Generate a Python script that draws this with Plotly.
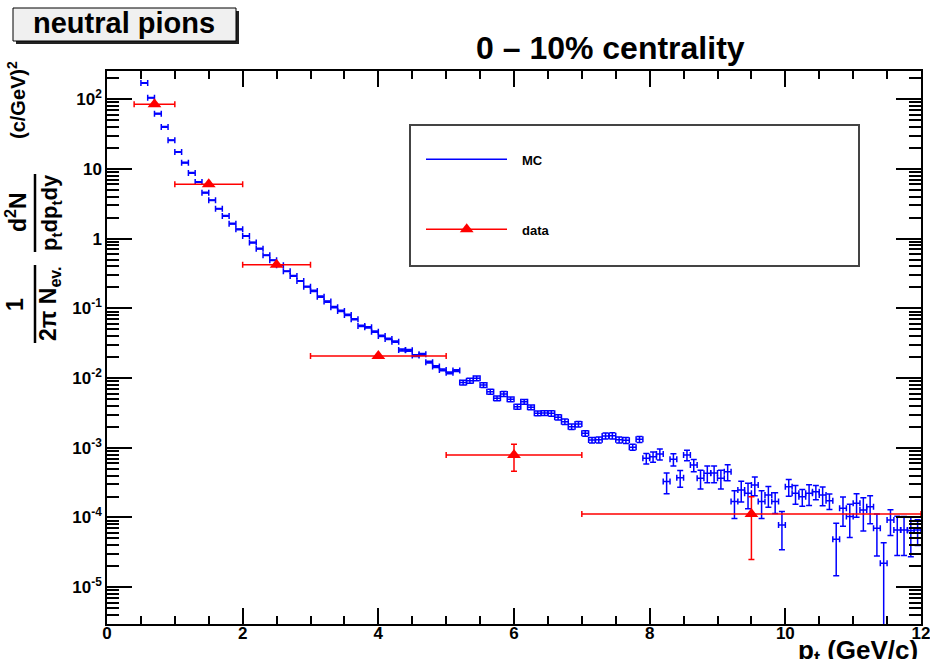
import plotly.graph_objects as go

# ---------------- data ----------------
mc_pt = [0.55, 0.65, 0.75, 0.85, 0.95, 1.05, 1.15, 1.25, 1.35, 1.45,
         1.55, 1.65, 1.75, 1.85, 1.95, 2.05, 2.15, 2.25, 2.35, 2.45,
         2.55, 2.65, 2.75, 2.85, 2.95, 3.05, 3.15, 3.25, 3.35, 3.45,
         3.55, 3.65, 3.75, 3.85, 3.95, 4.05, 4.15, 4.25, 4.35, 4.45,
         4.55, 4.65, 4.75, 4.85, 4.95, 5.05, 5.15, 5.25, 5.35, 5.45,
         5.55, 5.65, 5.75, 5.85, 5.95, 6.05, 6.15, 6.25, 6.35, 6.45,
         6.55, 6.65, 6.75, 6.85, 6.95, 7.05, 7.15, 7.25, 7.35, 7.45,
         7.55, 7.65, 7.75, 7.85, 7.95, 8.05, 8.15, 8.25, 8.35, 8.45,
         8.55, 8.65, 8.75, 8.85, 8.95, 9.05, 9.15, 9.25, 9.35, 9.45,
         9.55, 9.65, 9.75, 9.85, 9.95, 10.05, 10.15, 10.25, 10.35, 10.45,
         10.55, 10.65, 10.75, 10.85, 10.95, 11.05, 11.15, 11.25, 11.35, 11.45,
         11.55, 11.65, 11.75, 11.85, 11.95]

mc_yield = [171, 105, 62.1, 40.1, 25.8, 17.5, 12.3, 8.77, 6.51, 4.57,
            3.56, 2.69, 2.12, 1.64, 1.36, 1.09, 0.877, 0.719, 0.578, 0.490,
            0.415, 0.340, 0.292, 0.247, 0.205, 0.178, 0.147, 0.125, 0.104, 0.0918,
            0.0804, 0.0698, 0.0559, 0.0535, 0.0463, 0.0402, 0.0364, 0.0333, 0.0253, 0.0250,
            0.0210, 0.0219, 0.0169, 0.0146, 0.0131, 0.0119, 0.0128, 0.00865, 0.00918, 0.00993,
            0.00796, 0.00638, 0.00513, 0.00592, 0.00497, 0.00389, 0.00458, 0.00381, 0.00313, 0.00315,
            0.00312, 0.00274, 0.00237, 0.00201, 0.00219, 0.00161, 0.00129, 0.00130, 0.00148, 0.00149,
            0.00130, 0.00128, 0.00102, 0.00132, 7.07e-4, 7.45e-4, 8.15e-4, 3.27e-4, 6.84e-4, 3.72e-4,
            7.88e-4, 5.66e-4, 3.65e-4, 4.31e-4, 4.33e-4, 3.65e-4, 4.54e-4, 1.69e-4, 2.48e-4, 2.22e-4,
            2.92e-4, 1.69e-4, 2.10e-4, 1.70e-4, 7.80e-5, 2.77e-4, 2.22e-4, 1.99e-4, 2.22e-4, 2.34e-4,
            2.10e-4, 1.74e-4, 4.87e-5, 1.36e-4, 1.03e-4, 1.60e-4, 1.28e-4, 1.43e-4, 7.0e-5, 2.20e-5,
            9.2e-5, 6.62e-5, 6.6e-5, 6.5e-5, 6.62e-5]

mc_rel_err = [0.01, 0.01, 0.01, 0.01, 0.01, 0.01, 0.01, 0.01, 0.01, 0.01,
              0.01, 0.01, 0.01, 0.01, 0.01, 0.01, 0.01, 0.01, 0.01, 0.01,
              0.01, 0.01, 0.01, 0.01, 0.01, 0.02, 0.02, 0.02, 0.02, 0.02,
              0.02, 0.02, 0.02, 0.02, 0.02, 0.02, 0.02, 0.02, 0.03, 0.03,
              0.03, 0.03, 0.03, 0.03, 0.03, 0.03, 0.03, 0.08, 0.08, 0.08,
              0.08, 0.08, 0.08, 0.08, 0.08, 0.08, 0.08, 0.08, 0.08, 0.08,
              0.09, 0.09, 0.09, 0.09, 0.09, 0.09, 0.09, 0.10, 0.10, 0.10,
              0.10, 0.10, 0.10, 0.10, 0.17, 0.17, 0.18, 0.33, 0.20, 0.27,
              0.17, 0.20, 0.30, 0.27, 0.27, 0.30, 0.26, 0.43, 0.33, 0.40,
              0.30, 0.43, 0.33, 0.33, 0.56, 0.27, 0.30, 0.27, 0.33, 0.23,
              0.30, 0.25, 0.70, 0.45, 0.50, 0.37, 0.50, 0.43, 0.60, 0.98,
              0.40, 0.57, 0.57, 0.58, 0.40]

mc_bin_halfwidth = 0.05

data_pt = [0.7, 1.5, 2.5, 4.0, 6.0, 9.5]
data_pt_err = [0.3, 0.5, 0.5, 1.0, 1.0, 2.5]
data_yield = [84.8, 6.03, 0.424, 0.0207, 7.9e-4, 1.12e-4]
data_yield_err = [0.0, 0.0, 0.0, 0.0, 3.3e-4, 8.7e-5]

x_tick_vals = [0, 2, 4, 6, 8, 10, 12]
x_tick_text = ["0", "2", "4", "6", "8", "10", "12"]
y_tick_vals = [1e-5, 1e-4, 1e-3, 1e-2, 1e-1, 1, 10, 100]
y_tick_text = ["10<sup>-5</sup>", "10<sup>-4</sup>", "10<sup>-3</sup>", "10<sup>-2</sup>",
               "10<sup>-1</sup>", "1", "10", "10<sup>2</sup>"]
y_minor_vals = [m * 10.0 ** e for e in range(-6, 3) for m in range(2, 10)]

title_text = "0 – 10% centrality"
label_text = "neutral pions"

# ---------------- layout helpers ----------------
W, H = 930, 659
L, R, T, B = 107, 9, 71, 35
PW, PH = W - L - R, H - T - B


def px(x):
    return (x - L) / PW


def py(y):
    return (H - B - y) / PH


FONT = "Liberation Sans, Arial, Helvetica, sans-serif"
BLUE = "rgb(0,0,255)"
RED = "rgb(255,0,0)"

mc_err = [v * r for v, r in zip(mc_yield, mc_rel_err)]

fig = go.Figure()

fig.add_trace(go.Scatter(
    x=mc_pt, y=mc_yield, mode="markers",
    marker=dict(size=2, color=BLUE, opacity=0),
    error_x=dict(type="constant", value=mc_bin_halfwidth, width=3, thickness=1.5, color=BLUE),
    error_y=dict(type="data", array=mc_err, width=3, thickness=1.5, color=BLUE),
    showlegend=False, hoverinfo="skip",
))

fig.add_trace(go.Scatter(
    x=data_pt, y=data_yield, mode="markers",
    marker=dict(symbol="triangle-up", size=12, color=RED),
    error_x=dict(type="data", array=data_pt_err, width=3, thickness=1.5, color=RED),
    error_y=dict(type="data", array=data_yield_err, width=3, thickness=1.5, color=RED),
    showlegend=False, hoverinfo="skip",
))

# legend triangle on an overlay axis spanning the plot area
fig.add_trace(go.Scatter(
    x=[px(466.7)], y=[py(229.3)], xaxis="x2", yaxis="y2", mode="markers",
    marker=dict(symbol="triangle-up", size=12, color=RED),
    showlegend=False, hoverinfo="skip",
))

shapes = []
# neutral pions label box with shadow
shapes.append(dict(type="rect", xref="paper", yref="paper",
                   x0=px(16), x1=px(239), y0=py(44), y1=py(11),
                   fillcolor="#222222", line=dict(width=0), layer="above"))
shapes.append(dict(type="rect", xref="paper", yref="paper",
                   x0=px(13), x1=px(236), y0=py(41), y1=py(8),
                   fillcolor="#f0f0f0", line=dict(color="#000000", width=1), layer="above"))
# legend box
shapes.append(dict(type="rect", xref="paper", yref="paper",
                   x0=px(410), x1=px(859), y0=py(266), y1=py(125),
                   fillcolor="white", line=dict(color="#444444", width=2), layer="below"))
shapes.append(dict(type="line", xref="paper", yref="paper",
                   x0=px(426), x1=px(507), y0=py(159.3), y1=py(159.3),
                   line=dict(color=BLUE, width=1.5)))
shapes.append(dict(type="line", xref="paper", yref="paper",
                   x0=px(426), x1=px(507), y0=py(229.3), y1=py(229.3),
                   line=dict(color=RED, width=1.5)))
# fraction bars of the y title
shapes.append(dict(type="line", xref="paper", yref="paper",
                   x0=px(35), x1=px(35), y0=py(252), y1=py(174),
                   line=dict(color="black", width=2.5)))
shapes.append(dict(type="line", xref="paper", yref="paper",
                   x0=px(35), x1=px(35), y0=py(343), y1=py(265),
                   line=dict(color="black", width=2.5)))

ann = []


def add_text(text, x, y, size, xanchor="center", yanchor="middle", angle=0):
    ann.append(dict(text=text, x=px(x), y=py(y), xref="paper", yref="paper",
                    xanchor=xanchor, yanchor=yanchor, showarrow=False, textangle=angle,
                    font=dict(family=FONT, size=size, color="black", weight="bold")))


add_text(label_text, 124, 23, 29)
add_text(title_text, 610, 48, 32)
add_text("MC", 520, 160, 13, xanchor="left")
add_text("data", 520, 230, 13, xanchor="left")
add_text("p<sub>t</sub> (GeV/c)", 920, 633, 26, xanchor="right", yanchor="top")
# y-axis title pieces (rotated)
add_text("(c/GeV)<sup>2</sup>", 17, 100, 20, angle=-90)
add_text("d<sup>2</sup>N", 16, 212, 23, angle=-90)
add_text("p<sub>t</sub>dp<sub>t</sub>dy", 51, 213, 22, angle=-90)
add_text("1", 15, 305, 23, angle=-90)
add_text("2π N<sub>ev.</sub>", 49, 303, 23, angle=-90)

axis_font = dict(family=FONT, size=17, color="black", weight="bold")

fig.update_layout(
    width=W, height=H,
    margin=dict(l=L, r=R, t=T, b=B, pad=0, autoexpand=False),
    paper_bgcolor="white", plot_bgcolor="white",
    showlegend=False,
    shapes=shapes, annotations=ann,
    xaxis=dict(
        range=[0, 12], tickvals=x_tick_vals, ticktext=x_tick_text,
        ticks="inside", ticklen=16, tickwidth=1.5, tickcolor="black",
        minor=dict(ticks="inside", ticklen=8, tickwidth=1.5, tickcolor="black", dtick=0.5, tick0=0),
        showline=True, linecolor="black", linewidth=1.5, mirror="ticks",
        showgrid=False, zeroline=False, automargin=False,
        ticklabeloverflow="allow", ticklabelstandoff=-7,
        tickfont=axis_font,
    ),
    yaxis=dict(
        type="log", range=[-5.528, 2.405], tickvals=y_tick_vals, ticktext=y_tick_text,
        ticks="inside", ticklen=25, tickwidth=1.5, tickcolor="black",
        minor=dict(ticks="inside", ticklen=12, tickwidth=1.5, tickcolor="black", tickvals=y_minor_vals),
        showline=True, linecolor="black", linewidth=1.5, mirror="ticks",
        showgrid=False, zeroline=False, automargin=False,
        tickfont=axis_font,
    ),
    xaxis2=dict(overlaying="x", range=[0, 1], visible=False),
    yaxis2=dict(overlaying="y", range=[0, 1], visible=False),
)

fig.write_html("out.html")
